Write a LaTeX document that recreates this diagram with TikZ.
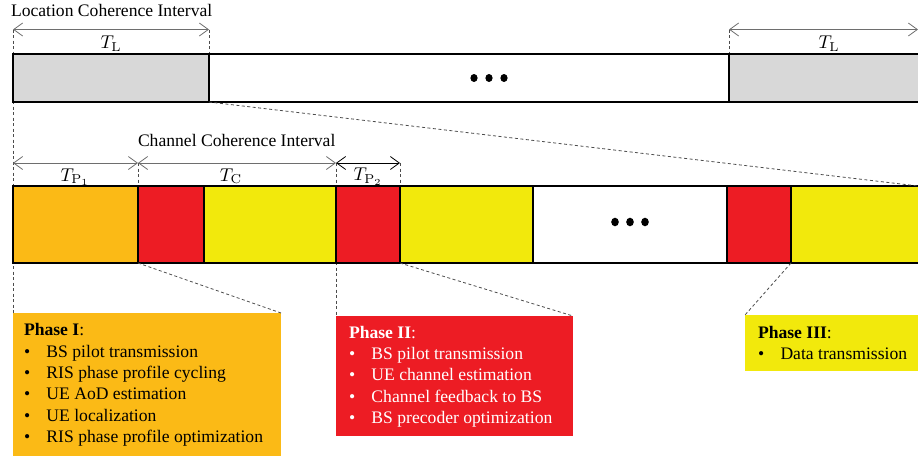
\RequirePackage{fix-cm}
\documentclass[tikz,border=0pt]{standalone}
\usepackage[no-math]{fontspec}
\usepackage{graphicx}
\setmainfont{Liberation Serif}
\usetikzlibrary{arrows.meta}
\definecolor{cOrange}{RGB}{251,186,22}
\definecolor{cRed}{RGB}{237,28,36}
\definecolor{cYellow}{RGB}{242,233,12}
\definecolor{cGray}{RGB}{216,216,216}
\definecolor{cArrow}{RGB}{110,110,110}
\tikzset{
  seg/.style={draw=black, line width=1.4pt, anchor=north west, inner sep=0pt, outer sep=0pt},
  topseg/.style={seg, minimum height=48pt},
  lowseg/.style={seg, minimum height=77pt},
  phasebox/.style={anchor=north west, inner sep=0pt, outer sep=0pt, draw=none},
  dimarrow/.style={{Straight Barb[length=9pt,width=13pt]}-{Straight Barb[length=9pt,width=13pt]}, draw=cArrow, line width=0.8pt},
  dashedline/.style={draw=black!70, line width=0.8pt, dash pattern=on 3pt off 2.5pt},
  lab/.style={inner sep=0pt, outer sep=0pt, anchor=base},
  txt/.style={inner sep=0pt, outer sep=0pt, anchor=base west, font=\fontsize{17.6}{21.4}\selectfont},
}
\newcommand{\bitem}[1]{\makebox[22.5pt][l]{\textbullet}#1}
\newcommand{\bigmath}[1]{\scalebox{1.85}{$#1$}}
\begin{document}
\begin{tikzpicture}[x=1pt,y=-1pt]
\useasboundingbox (0,0) rectangle (918,458);
\clip (0,0) rectangle (918,458);
% coordinates for dimension arrows
\coordinate (tlA) at (13,29.5);
\coordinate (tlB) at (209,29.5);
\coordinate (tlC) at (729,29.5);
\coordinate (tlD) at (918,29.5);
\coordinate (tpA) at (13,163);
\coordinate (tpB) at (138,163);
\coordinate (tpC) at (336,163);
\coordinate (tpD) at (400,163);
\coordinate (rEnd) at (918,186);
% phase boxes (nodes)
\node[phasebox, fill=cOrange, minimum width=268pt, minimum height=143pt] (p1) at (13,313) {};
\node[phasebox, fill=cRed, minimum width=237pt, minimum height=120pt] (p2) at (336,316) {};
\node[phasebox, fill=cYellow, minimum width=180pt, minimum height=56pt] (p3) at (745,315) {};
% dashed guides behind bars
\draw[dashedline] (tlA) -- (p1.north west);
\draw[dashedline] (tlB) -- (209,54);
\draw[dashedline] (tlC) -- (729,54);
\draw[dashedline] (tpB) -- (138,186);
\draw[dashedline] (tpC) -- (p2.north west);
\draw[dashedline] (tpD) -- (400,186);
% top bar
\node[topseg, fill=cGray, minimum width=196pt] (g1) at (13,54) {};
\node[topseg, fill=white, minimum width=520pt] (w1) at (209,54) {};
\node[topseg, fill=cGray, minimum width=200pt] (g2) at (729,54) {};
\foreach \xx in {474,489,504} \fill[black] (\xx,78) ellipse (3.6pt and 4pt);
% lower bar
\node[lowseg, fill=cOrange, minimum width=125pt] (o1) at (13,186) {};
\node[lowseg, fill=cRed, minimum width=66pt] (r1) at (138,186) {};
\node[lowseg, fill=cYellow, minimum width=132pt] (y1) at (204,186) {};
\node[lowseg, fill=cRed, minimum width=64pt] (r2) at (336,186) {};
\node[lowseg, fill=cYellow, minimum width=133pt] (y2) at (400,186) {};
\node[lowseg, fill=white, minimum width=194pt] (w2) at (533,186) {};
\node[lowseg, fill=cRed, minimum width=64pt] (r3) at (727,186) {};
\node[lowseg, fill=cYellow, minimum width=140pt] (y3) at (791,186) {};
\foreach \xx in {615,630,645} \fill[black] (\xx,222) ellipse (3.8pt and 4.3pt);
% zoom guides
\draw[dashedline] (g1.south east) -- (rEnd);
\draw[dashedline] (o1.south east) -- (p1.north east);
\draw[dashedline] (r2.south east) -- (p2.north east);
\draw[dashedline] (r3.south east) -- (p3.north west);
% dimension arrows
\draw[dimarrow] (tlA) -- (tlB);
\draw[dimarrow] (tlC) -- (tlD);
\draw[dimarrow] (tpA) -- (tpB);
\draw[dimarrow] (tpB) -- (tpC);
\draw[dimarrow, draw=black] (tpC) -- (tpD);
\node[lab] (lTL1) at (111,48.5) {\bigmath{T_{\mathrm{L}}}};
\node[lab] (lTL2) at (829,48.5) {\bigmath{T_{\mathrm{L}}}};
\node[lab] (lTP1) at (75,181) {\bigmath{T_{\mathrm{P}_1}}};
\node[lab] (lTC) at (231,181) {\bigmath{T_{\mathrm{C}}}};
\node[lab] (lTP2) at (368,180.5) {\bigmath{T_{\mathrm{P}_2}}};
% titles
\node[txt] (tLoc) at (11,16) {Location Coherence Interval};
\node[txt] (tCh) at (138,146.7) {Channel Coherence Interval};
% phase texts
\node[txt] (p1t) at (24,335.7) {\begin{tabular}[t]{@{}l@{}}\textbf{Phase I}:\\
\bitem{BS pilot transmission}\\
\bitem{RIS phase profile cycling}\\
\bitem{UE AoD estimation}\\
\bitem{UE localization}\\
\bitem{RIS phase profile optimization}\end{tabular}};
\node[txt, text=white] (p2t) at (349,338) {\begin{tabular}[t]{@{}l@{}}\textbf{Phase II}:\\
\bitem{BS pilot transmission}\\
\bitem{UE channel estimation}\\
\bitem{Channel feedback to BS}\\
\bitem{BS precoder optimization}\end{tabular}};
\node[txt] (p3t) at (758,338) {\begin{tabular}[t]{@{}l@{}}\textbf{Phase III}:\\
\bitem{Data transmission}\end{tabular}};
\end{tikzpicture}
\end{document}
